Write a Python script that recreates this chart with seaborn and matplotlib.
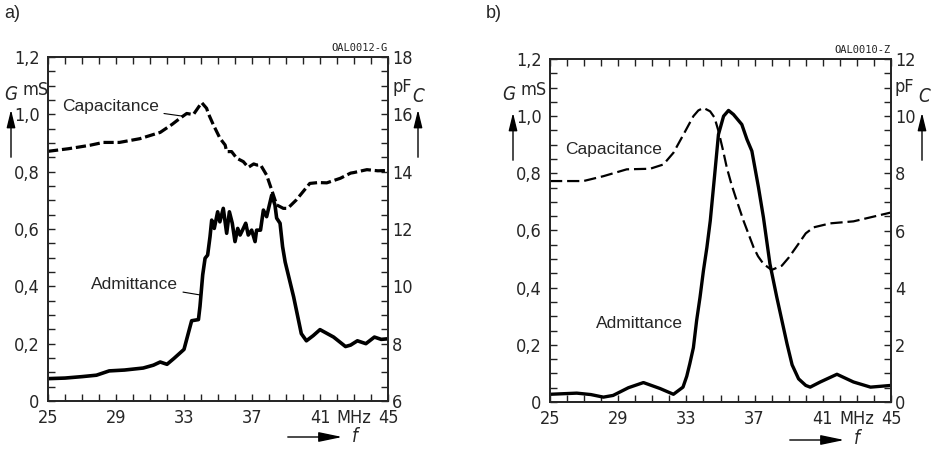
import numpy as np
import pandas as pd
import matplotlib
matplotlib.use("Agg")
import matplotlib.pyplot as plt
from matplotlib.patches import FancyArrowPatch
from matplotlib.ticker import FixedLocator, FuncFormatter
import seaborn as sns

import warnings
warnings.filterwarnings("ignore")

# ---- panel a) : admittance G (mS) and capacitance C (pF) vs f (MHz)
fa_adm = [25, 26, 27, 27.85, 28.6, 29.5, 30.6, 31.2, 31.6, 32.0, 32.4, 33.0, 33.45,
          33.85, 33.94, 34.1, 34.24, 34.39, 34.53, 34.63, 34.78, 34.98, 35.11, 35.31,
          35.51, 35.67, 35.84, 36.0, 36.16, 36.3, 36.49, 36.63, 36.78, 36.98, 37.18,
          37.27, 37.5, 37.67, 37.86, 38.16, 38.35, 38.45, 38.65, 38.8, 38.95, 39.45,
          39.9, 40.2, 40.6, 41.0, 41.8, 42.5, 42.8, 43.2, 43.7, 44.2, 44.6, 45]
ga_adm = [0.078, 0.080, 0.085, 0.09, 0.105, 0.108, 0.115, 0.125, 0.136, 0.128, 0.148,
          0.18, 0.28, 0.284, 0.33, 0.44, 0.498, 0.509, 0.573, 0.631, 0.602, 0.66,
          0.625, 0.672, 0.585, 0.66, 0.62, 0.556, 0.602, 0.579, 0.602, 0.62, 0.579,
          0.596, 0.556, 0.596, 0.596, 0.666, 0.643, 0.718, 0.684, 0.638, 0.62, 0.538,
          0.485, 0.363, 0.235, 0.21, 0.228, 0.249, 0.223, 0.19, 0.195, 0.21, 0.2,
          0.223, 0.215, 0.217]

fa_cap = [25, 26.2, 27.46, 28.25, 29.2, 30.4, 31.6, 32.3, 32.76, 33.16, 33.55, 34.04,
          34.33, 34.43, 34.73, 35.12, 35.42, 35.51, 35.8, 36.1, 36.49, 36.78, 37.1,
          37.3, 37.5, 37.86, 38.16, 38.45, 38.65, 38.84, 39.1, 39.6, 40.0, 40.4, 40.9,
          41.4, 42.2, 42.8, 43.0, 43.76, 44.4, 45]
ca_cap = [14.71, 14.8, 14.92, 15.02, 15.02, 15.15, 15.37, 15.65, 15.86, 16.03, 15.99,
          16.41, 16.21, 16.03, 15.63, 15.16, 14.93, 14.7, 14.7, 14.47, 14.35, 14.15,
          14.27, 14.23, 14.24, 13.88, 13.36, 12.84, 12.78, 12.72, 12.72, 13.01, 13.3,
          13.59, 13.62, 13.61, 13.77, 13.95, 13.97, 14.07, 14.03, 14.04]

# ---- panel b)
fb_adm = [25, 26.57, 27.4, 28.13, 28.7, 29.6, 30.48, 31.46, 32.24, 32.8, 33.02, 33.2,
          33.41, 33.6, 33.8, 34.0, 34.2, 34.4, 34.65, 34.88, 35.18, 35.47, 35.76,
          36.25, 36.55, 36.84, 37.23, 37.52, 37.9, 38.3, 38.9, 39.2, 39.58, 40.0,
          40.26, 40.85, 41.83, 42.8, 43.8, 45]
gb_adm = [0.027, 0.031, 0.026, 0.017, 0.023, 0.05, 0.068, 0.047, 0.027, 0.052, 0.09,
          0.134, 0.19, 0.285, 0.367, 0.46, 0.54, 0.634, 0.79, 0.936, 1.0, 1.02, 1.006,
          0.971, 0.919, 0.878, 0.75, 0.645, 0.483, 0.367, 0.204, 0.13, 0.081, 0.058,
          0.052, 0.07, 0.097, 0.07, 0.052, 0.058]

fb_cap = [25, 26.96, 28.13, 29.5, 30.87, 31.65, 32.24, 32.83, 33.41, 33.7, 34.0, 34.39,
          34.65, 34.88, 35.15, 35.37, 35.65, 35.96, 36.35, 36.94, 37.2, 37.52, 38.0,
          38.6, 39.0, 39.5, 40.0, 40.46, 41.44, 42.8, 45]
cb_cap = [7.73, 7.73, 7.9, 8.14, 8.16, 8.31, 8.72, 9.36, 10.0, 10.2, 10.29, 10.17,
          9.95, 9.48, 8.8, 8.2, 7.6, 7.03, 6.34, 5.41, 5.1, 4.83, 4.62, 4.77, 5.05,
          5.47, 5.9, 6.11, 6.25, 6.32, 6.63]

x_ticks = [25, 29, 33, 37, 41, 43, 45]
x_labels = ["25", "29", "33", "37", "41", "MHz", "45"]
g_ticks = [0, 0.2, 0.4, 0.6, 0.8, 1.0, 1.2]

sns.set_style("ticks")
plt.rcParams["font.family"] = ["DejaVu Sans"]
plt.rcParams["font.stretch"] = "condensed"

W, H = 931, 449
fig = plt.figure(figsize=(W / 100, H / 100), dpi=100)


def px(x, y):
    return (x / W, 1 - y / H)


def comma(v, p):
    if abs(v) < 1e-9:
        return "0"
    return f"{v:.1f}".replace(".", ",")


def setup(ax, axr, c_lo, c_hi, code):
    ax.set_xlim(25, 45)
    ax.set_ylim(0, 1.2)
    axr.set_ylim(c_lo, c_hi)
    ax.xaxis.set_major_locator(FixedLocator(x_ticks))
    ax.set_xticklabels(x_labels)
    ax.xaxis.set_minor_locator(FixedLocator(range(25, 46)))
    ax.yaxis.set_major_locator(FixedLocator(g_ticks))
    ax.yaxis.set_major_formatter(FuncFormatter(comma))
    ax.yaxis.set_minor_locator(FixedLocator(np.arange(0, 1.21, 0.05)))
    axr.yaxis.set_major_locator(FixedLocator(np.arange(c_lo, c_hi + 0.1, 2)))
    axr.yaxis.set_major_formatter(FuncFormatter(lambda v, p: f"{v:.0f}"))
    axr.yaxis.set_minor_locator(FixedLocator(np.arange(c_lo, c_hi + 0.1, 0.5)))
    ax.tick_params(which="both", direction="in", length=5, width=1, top=True,
                   right=False, labelsize=13, color="#222222")
    ax.tick_params(axis="x", pad=6)
    ax.tick_params(axis="y", pad=6)
    axr.tick_params(which="both", direction="in", length=5, width=1, right=True,
                    left=False, labelsize=13, pad=3, color="#222222")
    for a in (ax, axr):
        a.set_xlabel("")
        a.set_ylabel("")
        for s in a.spines.values():
            s.set_linewidth(1.3)
            s.set_visible(True)
    ax.text(1.0, 1.012, code, transform=ax.transAxes, ha="right", va="bottom",
            fontsize=7.5, family="DejaVu Sans Mono", color="#222222")


label_kw = dict(fontsize=12.5, family="Liberation Sans", stretch="normal",
                va="center", ha="left")

# ---------- a)
axa = fig.add_axes([48 / W, 1 - 401 / H, 340 / W, 344 / H])
axa_r = axa.twinx()
sns.lineplot(x=fa_adm, y=ga_adm, ax=axa, color="black", lw=2.6, estimator=None)
sns.lineplot(x=fa_cap, y=ca_cap, ax=axa_r, color="black", lw=2.3, estimator=None,
             linestyle=(0, (3.2, 1.2)))
setup(axa, axa_r, 6, 18, "OAL0012-G")
axa.annotate("Capacitance", xy=(32.88, 0.994), xytext=(25.85, 1.029),
             arrowprops=dict(arrowstyle="-", lw=0.8, color="black", shrinkA=1, shrinkB=0),
             **label_kw)
axa.annotate("Admittance", xy=(33.94, 0.37), xytext=(27.55, 0.408),
             arrowprops=dict(arrowstyle="-", lw=0.8, color="black", shrinkA=1, shrinkB=0),
             **label_kw)

# ---------- b)
axb = fig.add_axes([550 / W, 1 - 402 / H, 341 / W, 343 / H])
axb_r = axb.twinx()
sns.lineplot(x=fb_adm, y=gb_adm, ax=axb, color="black", lw=2.4, estimator=None)
sns.lineplot(x=fb_cap, y=cb_cap, ax=axb_r, color="black", lw=1.6, estimator=None,
             linestyle=(0, (5.5, 2.2)))
setup(axb, axb_r, 0, 12, "OAL0010-Z")
axb.text(25.88, 0.885, "Capacitance", **label_kw)
axb.text(27.7, 0.273, "Admittance", **label_kw)

# ---------- panel letters, quantity symbols and arrows
fig.text(*px(4, 14), "a)", fontsize=13, family="Liberation Sans", stretch="normal",
         va="center")
fig.text(*px(486, 14), "b)", fontsize=13, family="Liberation Sans", stretch="normal",
         va="center")

arrow = dict(arrowstyle="-|>,head_length=0.9,head_width=0.22", lw=1.0, color="black")
for gx, msx, arx, cx, pfx, carx, ay0, ay1 in [
        (11, 22, 11, 418, 392, 418, 160, 107),
        (509, 520, 513, 924, 894, 922, 163, 110)]:
    fig.text(*px(gx, 95), "G", fontsize=13.5, style="italic", ha="center", va="center")
    fig.text(*px(msx, 90), "mS", fontsize=13, ha="left", va="center")
    fig.text(*px(pfx, 87), "pF", fontsize=13, ha="left", va="center")
    fig.text(*px(cx, 97), "C", fontsize=13.5, style="italic", ha="center", va="center")
    fig.add_artist(FancyArrowPatch(px(arx, ay0), px(arx, ay1), transform=fig.transFigure,
                                   mutation_scale=12, **arrow))
    fig.add_artist(FancyArrowPatch(px(carx, ay0), px(carx, ay1), transform=fig.transFigure,
                                   mutation_scale=12, **arrow))

for x0, x1, fx, fy in [(285, 345, 352, 437), (787, 847, 854, 440)]:
    fig.add_artist(FancyArrowPatch(px(x0, fy), px(x1, fy), transform=fig.transFigure,
                                   mutation_scale=12,
                                   arrowstyle="-|>,head_length=1.2,head_width=0.25",
                                   lw=1.0, color="black"))
    fig.text(*px(fx, fy - 1), "f", fontsize=13.5, style="italic", ha="left", va="center")

fig.savefig("out.png", dpi=100)
